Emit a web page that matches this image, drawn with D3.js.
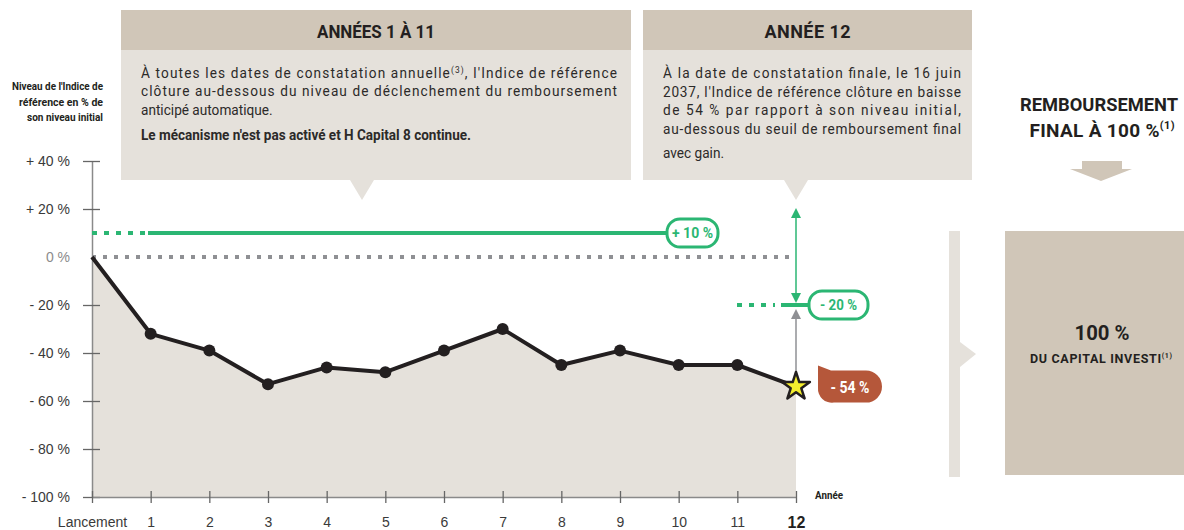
<!DOCTYPE html>
<html>
<head>
<meta charset="utf-8">
<script src="https://cdn.jsdelivr.net/npm/d3@7"></script>
<style>
  body { margin: 0; background: #fff; }
  svg { display: block; font-family: "Roboto", "Liberation Sans", sans-serif; }
</style>
</head>
<body>
<script>
var w = 1184;
var h = 530;

// data
var years = ["Lancement", "1", "2", "3", "4", "5", "6", "7", "8", "9", "10", "11", "12"];
var indexLevels = [0, -32, -39, -53, -46, -48, -39, -30, -45, -39, -45, -45, -54];
var yTicks = [40, 20, 0, -20, -40, -60, -80, -100];
var yTickLabels = ["+ 40 %", "+ 20 %", "0 %", "- 20 %", "- 40 %", "- 60 %", "- 80 %", "- 100 %"];
var earlyBarrier = 10;
var finalBarrier = -20;
var finalLabel = "- 54 %";

var green = "#2bb673";
var dark = "#231f20";
var sand = "#e5e1db";
var head = "#d0c6b8";

var svg = d3.select("body").append("svg")
    .attr("width", w)
    .attr("height", h);

var xScale = d3.scaleLinear().domain([0, years.length - 1]).range([92, 796]);
var yScale = d3.scaleLinear().domain([-100, 40]).range([497, 161]);

// squeeze a text to a given width (the original uses a condensed face);
// widen only the spaces when the text is too short
function fit(sel, len) {
  var nat = sel.node().getComputedTextLength();
  return sel.attr("textLength", len).attr("lengthAdjust", nat < len ? "spacing" : "spacingAndGlyphs");
}

// ---- top boxes
var sx = 0.88; // horizontal squeeze of the body text
function box(x0, x1, title, titleLen, lines, tipX) {
  var g = svg.append("g");
  g.append("rect").attr("x", x0).attr("y", 10).attr("width", x1 - x0).attr("height", 40).attr("fill", head);
  g.append("rect").attr("x", x0).attr("y", 50).attr("width", x1 - x0).attr("height", 130).attr("fill", sand);
  g.append("path").attr("d", "M" + (tipX - 12) + ",180L" + (tipX + 12) + ",180L" + tipX + ",200Z").attr("fill", sand);
  fit(g.append("text").attr("x", (x0 + x1) / 2).attr("y", 38)
    .attr("text-anchor", "middle").attr("font-size", 18).attr("font-weight", "bold").attr("fill", dark)
    .text(title), titleLen);
  var body = g.append("g").attr("transform", "scale(" + sx + ",1)");
  lines.forEach(function(l) {
    var t = body.append("text").attr("x", (x0 + 20) / sx).attr("y", l.y)
      .attr("font-size", 15.5).attr("fill", "#2c2a29")
      .attr("font-weight", l.bold ? "bold" : null);
    if (l.sup) {
      t.append("tspan").text(l.text);
      t.append("tspan").attr("font-size", 9.5).attr("dy", -5).text(l.sup);
      t.append("tspan").attr("dy", 5).text(l.rest);
    } else {
      t.text(l.text);
    }
    if (l.len) fit(t, l.len / sx);
  });
}

box(121, 631, "ANNÉES 1 À 11", 118, [
  { y: 78, text: "À toutes les dates de constatation annuelle", sup: "(3)", rest: ", l'Indice de référence", len: 476 },
  { y: 96, text: "clôture au-dessous du niveau de déclenchement du remboursement", len: 476 },
  { y: 115, text: "anticipé automatique." },
  { y: 140, text: "Le mécanisme n'est pas activé et H Capital 8 continue.", bold: true, len: 330 }
], 362);

box(643, 972, "ANNÉE 12", 86, [
  { y: 78, text: "À la date de constatation finale, le 16 juin", len: 298 },
  { y: 97, text: "2037, l'Indice de référence clôture en baisse", len: 298 },
  { y: 115, text: "de 54 % par rapport à son niveau initial,", len: 298 },
  { y: 134, text: "au-dessous du seuil de remboursement final", len: 298 },
  { y: 158, text: "avec gain." }
], 796);

// ---- y axis title
var yTitle = ["Niveau de l'Indice de", "référence en % de", "son niveau initial"];
var yTitleLen = [91, 84, 76];
svg.append("g").selectAll("text").data(yTitle).enter().append("text")
  .attr("x", 103).attr("y", function(d, i) { return 90 + i * 15.5; })
  .attr("text-anchor", "end").attr("font-size", 11.5).attr("font-weight", "bold").attr("fill", dark)
  .attr("textLength", function(d, i) { return yTitleLen[i]; }).attr("lengthAdjust", "spacingAndGlyphs")
  .text(function(d) { return d; });

// ---- area and line
var area = d3.area()
  .x(function(d, i) { return xScale(i); })
  .y0(yScale(-100))
  .y1(function(d) { return yScale(d); });

svg.append("path").datum(indexLevels).attr("d", area).attr("fill", sand);

// ---- axes
var yAxis = d3.axisLeft(yScale).tickValues(yTicks).tickSize(0).tickPadding(0)
  .tickFormat(function(d, i) { return yTickLabels[i]; });
var gy = svg.append("g").attr("transform", "translate(92,0)").call(yAxis);
gy.select(".domain").attr("stroke", "#8a8a8a").attr("stroke-width", 1.5);
gy.selectAll(".tick line").remove();
gy.selectAll(".tick").filter(function(d) { return d !== 0; }).append("line")
  .attr("x1", -9).attr("x2", 8).attr("stroke", "#666").attr("stroke-width", 1.3);
gy.selectAll(".tick text").attr("x", -22).attr("font-size", 14).attr("font-family", null)
  .attr("fill", function(d) { return d === 0 ? "#8c8c8c" : "#3a3a3a"; });

var xAxis = d3.axisBottom(xScale).tickValues(d3.range(years.length)).tickSize(0)
  .tickFormat(function(d) { return years[d]; });
var gx = svg.append("g").attr("transform", "translate(0," + yScale(-100) + ")").call(xAxis);
gx.select(".domain").attr("stroke", "#8a8a8a").attr("stroke-width", 1.5);
gx.selectAll(".tick line").remove();
gx.selectAll(".tick").append("line").attr("y1", -6).attr("y2", 6).attr("stroke", "#666").attr("stroke-width", 1.3);
gx.selectAll(".tick text").attr("y", 20).attr("font-family", null)
  .attr("fill", function(d) { return d === 12 ? dark : "#3a3a3a"; })
  .attr("font-weight", function(d) { return d === 12 ? "bold" : null; })
  .attr("font-size", function(d) { return d === 12 ? 16 : 14; });

fit(svg.append("text").attr("x", 815).attr("y", 499).attr("font-size", 10.5).attr("font-weight", "bold")
  .attr("fill", dark).text("Année"), 28);

// ---- reference lines
svg.append("line").attr("x1", 92).attr("x2", 793)
  .attr("y1", yScale(0)).attr("y2", yScale(0))
  .attr("stroke", "#8f9094").attr("stroke-width", 4).attr("stroke-dasharray", "4,7");

svg.append("line").attr("x1", 92).attr("x2", 146)
  .attr("y1", yScale(earlyBarrier)).attr("y2", yScale(earlyBarrier))
  .attr("stroke", green).attr("stroke-width", 4).attr("stroke-dasharray", "5,7");
svg.append("line").attr("x1", 148).attr("x2", 668)
  .attr("y1", yScale(earlyBarrier)).attr("y2", yScale(earlyBarrier))
  .attr("stroke", green).attr("stroke-width", 4);

svg.append("line").attr("x1", 737).attr("x2", 775)
  .attr("y1", yScale(finalBarrier)).attr("y2", yScale(finalBarrier))
  .attr("stroke", green).attr("stroke-width", 4).attr("stroke-dasharray", "5,7");
svg.append("line").attr("x1", 781).attr("x2", 810)
  .attr("y1", yScale(finalBarrier)).attr("y2", yScale(finalBarrier))
  .attr("stroke", green).attr("stroke-width", 4);

// ---- arrows at year 12
var x12 = xScale(12);
svg.append("line").attr("x1", x12).attr("x2", x12).attr("y1", 214).attr("y2", 298)
  .attr("stroke", green).attr("stroke-width", 1.5);
svg.append("path").attr("d", "M" + x12 + ",208L" + (x12 - 5) + ",218L" + (x12 + 5) + ",218Z").attr("fill", green);
svg.append("path").attr("d", "M" + x12 + "," + (yScale(finalBarrier) - 2) + "L" + (x12 - 5) + "," + (yScale(finalBarrier) - 12) + "L" + (x12 + 5) + "," + (yScale(finalBarrier) - 12) + "Z").attr("fill", green);
svg.append("line").attr("x1", x12).attr("x2", x12).attr("y1", 316).attr("y2", yScale(indexLevels[12]))
  .attr("stroke", "#8f9094").attr("stroke-width", 1.5);
svg.append("path").attr("d", "M" + x12 + "," + (yScale(finalBarrier) + 4) + "L" + (x12 - 5) + "," + (yScale(finalBarrier) + 14) + "L" + (x12 + 5) + "," + (yScale(finalBarrier) + 14) + "Z").attr("fill", "#8f9094");

// ---- index line
var line = d3.line()
  .x(function(d, i) { return xScale(i); })
  .y(function(d) { return yScale(d); });
svg.append("path").datum(indexLevels).attr("d", line)
  .attr("fill", "none").attr("stroke", dark).attr("stroke-width", 4).attr("stroke-linejoin", "round");

svg.selectAll("circle.pt").data(indexLevels.slice(1, 12)).enter().append("circle")
  .attr("class", "pt")
  .attr("cx", function(d, i) { return xScale(i + 1); })
  .attr("cy", function(d) { return yScale(d); })
  .attr("r", 6).attr("fill", dark);

// star on last point
var star = d3.symbol().type(d3.symbolStar).size(240);
svg.append("path").attr("d", star)
  .attr("transform", "translate(" + x12 + "," + yScale(indexLevels[12]) + ")")
  .attr("fill", "#f4ee2e").attr("stroke", dark).attr("stroke-width", 2.5).attr("stroke-linejoin", "round");

// ---- labels
function pill(x0, y0, wd, ht, txt, len) {
  svg.append("rect").attr("x", x0).attr("y", y0).attr("width", wd).attr("height", ht)
    .attr("rx", ht / 2 - 1).attr("fill", "#fff").attr("stroke", green).attr("stroke-width", 3);
  fit(svg.append("text").attr("x", x0 + wd / 2).attr("y", y0 + ht / 2 + 5)
    .attr("text-anchor", "middle").attr("font-size", 15).attr("font-weight", "bold").attr("fill", green)
    .text(txt), len);
}
pill(667, 219, 51, 28, "+ 10 %", 41);
pill(809, 291, 59, 28, "- 20 %", 37);

var yEnd = yScale(indexLevels[12]);
svg.append("path")
  .attr("d", "M818," + (yEnd - 21) + "L831," + (yEnd - 16) + "L866," + (yEnd - 16)
    + "A16,16 0 0 1 866," + (yEnd + 16) + "L834," + (yEnd + 16)
    + "A14,14 0 0 1 818," + (yEnd + 1) + "Z")
  .attr("fill", "#b5573a");
fit(svg.append("text").attr("x", 850).attr("y", yEnd + 6).attr("text-anchor", "middle")
  .attr("font-size", 17).attr("font-weight", "bold").attr("fill", "#fff").text(finalLabel), 39);

// ---- right side
svg.append("path").attr("d", "M1082,161L1122,161L1122,169L1132,169L1101,181L1070,169L1082,169Z").attr("fill", head);
svg.append("path").attr("d", "M949,231L960,231L960,342L976,354L960,367L960,477L949,477Z").attr("fill", sand);
svg.append("rect").attr("x", 1005).attr("y", 231).attr("width", 179).attr("height", 244).attr("fill", head);

var rt = svg.append("g").attr("text-anchor", "middle").attr("font-weight", "bold").attr("fill", dark);
fit(rt.append("text").attr("x", 1099).attr("y", 111).attr("font-size", 18.5).text("REMBOURSEMENT"), 158);
var t2 = rt.append("text").attr("x", 1102).attr("y", 137).attr("font-size", 19);
t2.append("tspan").text("FINAL À 100 %");
t2.append("tspan").attr("font-size", 11).attr("dy", -8).text("(1)");
fit(t2, 145);

fit(rt.append("text").attr("x", 1102).attr("y", 340).attr("font-size", 21).text("100 %"), 55);
var t3 = rt.append("text").attr("x", 1101).attr("y", 363).attr("font-size", 12.5);
t3.append("tspan").text("DU CAPITAL INVESTI");
t3.append("tspan").attr("font-size", 7).attr("dy", -5).text("(1)");
fit(t3, 142);
</script>
</body>
</html>
